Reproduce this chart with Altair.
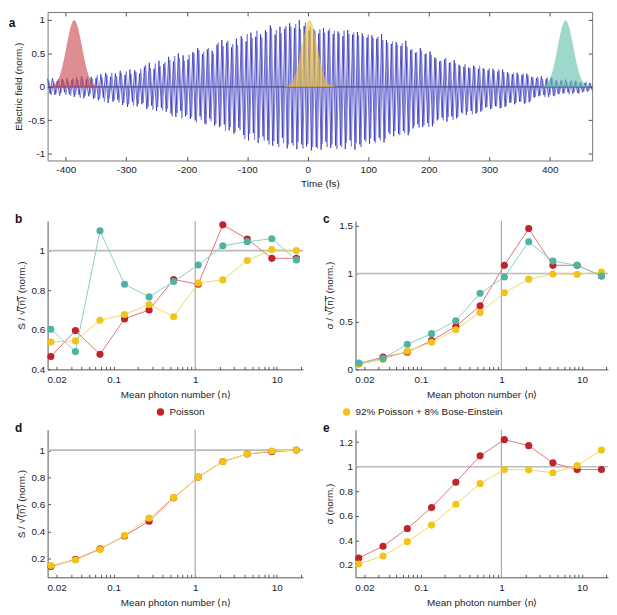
import altair as alt
import pandas as pd

FONT = "Liberation Sans"

# ---------- panel a: electric field, two overlaid traces (peak values every 4 fs) ----------
dark_start, light_start, peak_step = -430, -428, 4
dark_peaks = [
    0.12, -0.10, 0.13, -0.12, 0.09, -0.13, 0.12, -0.08, 0.13, -0.11,
    0.10, -0.15, 0.14, -0.12, 0.16, -0.17, 0.11, -0.14, 0.15, -0.18,
    0.13, -0.20, 0.19, -0.16, 0.21, -0.24, 0.15, -0.22, 0.20, -0.19,
    0.24, -0.27, 0.18, -0.30, 0.26, -0.22, 0.25, -0.29, 0.20, -0.26,
    0.30, -0.33, 0.36, -0.28, 0.27, -0.36, 0.39, -0.31, 0.34, -0.37,
    0.45, -0.40, 0.38, -0.45, 0.50, -0.36, 0.47, -0.44, 0.41, -0.48,
    0.52, -0.50, 0.58, -0.44, 0.49, -0.55, 0.56, -0.47, 0.54, -0.58,
    0.63, -0.60, 0.70, -0.56, 0.66, -0.65, 0.59, -0.70, 0.72, -0.61,
    0.76, -0.72, 0.68, -0.80, 0.81, -0.69, 0.75, -0.84, 0.79, -0.74,
    0.85, -0.80, 0.92, -0.88, 0.78, -0.85, 0.90, -0.76, 0.87, -0.92,
    0.95, -0.84, 0.88, -0.93, 1.00, -0.86, 0.91, -0.89, 0.84, -0.95,
    0.86, -0.90, 0.80, -0.94, 0.88, -0.82, 0.84, -0.91, 0.79, -0.88,
    0.83, -0.87, 0.76, -0.93, 0.85, -0.80, 0.78, -0.94, 0.82, -0.86,
    0.80, -0.79, 0.74, -0.85, 0.77, -0.81, 0.72, -0.76, 0.79, -0.83,
    0.70, -0.68, 0.64, -0.74, 0.67, -0.70, 0.61, -0.66, 0.69, -0.72,
    0.55, -0.62, 0.51, -0.56, 0.58, -0.60, 0.49, -0.54, 0.53, -0.59,
    0.44, -0.50, 0.38, -0.46, 0.41, -0.52, 0.36, -0.44, 0.40, -0.47,
    0.33, -0.38, 0.30, -0.42, 0.29, -0.36, 0.32, -0.40, 0.27, -0.37,
    0.28, -0.31, 0.25, -0.33, 0.27, -0.29, 0.23, -0.32, 0.26, -0.30,
    0.22, -0.24, 0.19, -0.26, 0.21, -0.22, 0.18, -0.25, 0.20, -0.23,
    0.15, -0.16, 0.13, -0.14, 0.16, -0.12, 0.12, -0.15, 0.14, -0.13,
    0.10, -0.11, 0.09, -0.10, 0.11, -0.08, 0.08, -0.10, 0.09, -0.09,
    0.07, -0.08, 0.06, -0.07, 0.06, -0.05,
]
light_peaks = [
    0.10, -0.12, 0.08, -0.10, 0.12, -0.09, 0.10, -0.12, 0.08, -0.13,
    0.13, -0.12, 0.10, -0.16, 0.12, -0.13, 0.15, -0.11, 0.12, -0.16,
    0.17, -0.18, 0.14, -0.22, 0.18, -0.17, 0.21, -0.20, 0.16, -0.23,
    0.20, -0.24, 0.23, -0.26, 0.19, -0.28, 0.22, -0.25, 0.27, -0.24,
    0.33, -0.30, 0.28, -0.34, 0.35, -0.30, 0.31, -0.35, 0.37, -0.33,
    0.40, -0.44, 0.46, -0.39, 0.43, -0.47, 0.39, -0.42, 0.48, -0.45,
    0.50, -0.53, 0.55, -0.49, 0.52, -0.56, 0.58, -0.51, 0.50, -0.55,
    0.66, -0.58, 0.61, -0.66, 0.69, -0.60, 0.64, -0.67, 0.62, -0.65,
    0.72, -0.78, 0.79, -0.70, 0.73, -0.79, 0.84, -0.76, 0.74, -0.80,
    0.82, -0.86, 0.88, -0.81, 0.85, -0.90, 0.80, -0.84, 0.91, -0.86,
    0.90, -0.88, 0.94, -0.82, 0.86, -0.92, 0.96, -0.85, 0.89, -0.90,
    0.83, -0.92, 0.86, -0.85, 0.81, -0.90, 0.87, -0.86, 0.84, -0.93,
    0.80, -0.90, 0.84, -0.83, 0.79, -0.89, 0.81, -0.84, 0.77, -0.90,
    0.76, -0.82, 0.78, -0.77, 0.73, -0.84, 0.75, -0.80, 0.70, -0.78,
    0.66, -0.71, 0.68, -0.66, 0.63, -0.72, 0.65, -0.69, 0.60, -0.68,
    0.56, -0.58, 0.52, -0.61, 0.54, -0.57, 0.50, -0.60, 0.48, -0.55,
    0.42, -0.48, 0.39, -0.50, 0.43, -0.45, 0.37, -0.49, 0.35, -0.45,
    0.31, -0.40, 0.34, -0.37, 0.28, -0.41, 0.30, -0.38, 0.31, -0.35,
    0.26, -0.30, 0.28, -0.32, 0.24, -0.29, 0.26, -0.31, 0.22, -0.28,
    0.20, -0.23, 0.21, -0.24, 0.18, -0.22, 0.20, -0.24, 0.17, -0.21,
    0.14, -0.15, 0.15, -0.13, 0.12, -0.15, 0.14, -0.12, 0.13, -0.14,
    0.09, -0.10, 0.10, -0.09, 0.08, -0.11, 0.10, -0.08, 0.09, -0.10,
    0.06, -0.07, 0.07, -0.06, 0.05,
]
wave = pd.concat([
    pd.DataFrame({"t": [light_start + peak_step * i for i in range(len(light_peaks))],
                  "E": light_peaks, "trace": "light"}),
    pd.DataFrame({"t": [dark_start + peak_step * i for i in range(len(dark_peaks))],
                  "E": dark_peaks, "trace": "dark"}),
], ignore_index=True)

# pulse envelopes (same shape at three delays)
pulse_offsets = [-45, -40, -35, -30, -25, -20, -15, -10, -5, 0, 5, 10, 15, 20, 25, 30, 35, 40, 45]
pulse_shape = [0.0, 0.007, 0.022, 0.06, 0.14, 0.29, 0.5, 0.73, 0.92, 1.0,
               0.92, 0.73, 0.5, 0.29, 0.14, 0.06, 0.022, 0.007, 0.0]
pulse_names = ["early", "centre", "late"]
pulse_centres = [-386, 3, 426]
pulse_colors = ["#c9474e", "#ecc23a", "#62c0ad"]

rows = []
for name, c in zip(pulse_names, pulse_centres):
    for off, h in zip(pulse_offsets, pulse_shape):
        rows.append({"pulse": name, "t": c + off, "E": h, "E0": 0.0})
pulses = pd.DataFrame(rows)

time_ticks = [-400, -300, -200, -100, 0, 100, 200, 300, 400]
field_ticks = [-1, -0.5, 0, 0.5, 1]

# ---------- panels b-e ----------
mean_n = [0.017, 0.034, 0.068, 0.136, 0.272, 0.544, 1.088, 2.18, 4.35, 8.7, 17.4]
series_names = ["Poisson", "92% Poisson + 8% Bose-Einstein", "Measured"]
point_colors = ["#c1232b", "#f0c419", "#4fb3a3"]
line_colors = ["#de7479", "#f3d860", "#86d2c4"]

b_poisson = [0.465, 0.596, 0.476, 0.655, 0.70, 0.854, 0.83, 1.13, 1.058, 0.961, 0.961]
b_mixed = [0.538, 0.544, 0.648, 0.677, 0.728, 0.666, 0.836, 0.852, 0.95, 1.005, 1.0]
b_measured = [0.603, 0.49, 1.10, 0.83, 0.766, 0.844, 0.927, 1.024, 1.045, 1.06, 0.953]

c_poisson = [0.06, 0.128, 0.18, 0.30, 0.45, 0.663, 1.086, 1.47, 1.086, 1.086, 0.975]
c_mixed = [0.054, 0.104, 0.19, 0.283, 0.414, 0.595, 0.80, 0.942, 0.996, 0.992, 1.016]
c_measured = [0.067, 0.114, 0.262, 0.373, 0.508, 0.794, 0.965, 1.332, 1.13, 1.086, 0.975]

d_poisson = [0.14, 0.193, 0.27, 0.365, 0.475, 0.647, 0.80, 0.916, 0.971, 0.988, 1.0]
d_mixed = [0.147, 0.188, 0.265, 0.37, 0.497, 0.65, 0.80, 0.916, 0.971, 0.993, 1.0]

e_poisson = [0.257, 0.353, 0.496, 0.668, 0.873, 1.088, 1.22, 1.171, 1.031, 0.977, 0.977]
e_mixed = [0.208, 0.273, 0.39, 0.525, 0.694, 0.862, 0.977, 0.974, 0.951, 1.01, 1.135]

n_labels = [0.02, 0.1, 1, 10]
n_minor = [0.02, 0.03, 0.04, 0.05, 0.06, 0.07, 0.08, 0.09,
           0.1, 0.2, 0.3, 0.4, 0.5, 0.6, 0.7, 0.8, 0.9,
           1, 2, 3, 4, 5, 6, 7, 8, 9, 10, 20]

AXIS_COLOR = "#555555"
MINUS_FIX = "replace(format(datum.value, '~g'), '\u2212', '-')"


def frame_panel():
    xs = alt.Scale(domain=[-430, 470], nice=False, zero=False)
    ys = alt.Scale(domain=[-1.1, 1.12], nice=False, zero=False)
    inner = dict(offset=-4, tickSize=4, domain=False, tickColor=AXIS_COLOR)
    traces = alt.Chart(wave).mark_line(interpolate="linear").encode(
        x=alt.X("t:Q", scale=xs, title="Time (fs)",
                axis=alt.Axis(orient="bottom", values=time_ticks, labelExpr=MINUS_FIX,
                              labelPadding=4, titlePadding=4, **inner)),
        y=alt.Y("E:Q", scale=ys, title="Electric field (norm.)",
                axis=alt.Axis(orient="left", values=field_ticks, labelExpr=MINUS_FIX,
                              labelPadding=3, titlePadding=4, **inner)),
        stroke=alt.Stroke("trace:N", scale=alt.Scale(domain=["light", "dark"],
                                                     range=["#8484e0", "#2222ae"]),
                          legend=None),
        strokeWidth=alt.StrokeWidth("trace:N", scale=alt.Scale(domain=["light", "dark"],
                                                               range=[1.0, 0.7]),
                                    legend=None),
    )
    zero = alt.Chart(pd.DataFrame({"E": [0.0]})).mark_rule(
        color="#4a4a86", strokeWidth=1.2
    ).encode(y=alt.Y("E:Q", scale=ys, axis=None))
    env = alt.Chart(pulses).mark_area(opacity=0.62, interpolate="monotone").encode(
        x=alt.X("t:Q", scale=xs,
                axis=alt.Axis(orient="top", values=time_ticks, labels=False, title=None, **inner)),
        y=alt.Y("E:Q", scale=ys, stack=None,
                axis=alt.Axis(orient="right", values=field_ticks, labels=False, title=None, **inner)),
        y2="E0:Q",
        color=alt.Color("pulse:N", scale=alt.Scale(domain=pulse_names, range=pulse_colors),
                        legend=None),
    )
    return alt.layer(traces, zero, env).resolve_axis(
        x="independent", y="independent"
    ).properties(
        width=550, height=150,
        view=alt.ViewBackground(stroke="#777777", strokeWidth=1),
        title=alt.TitleParams("a", anchor="start", dx=-5, offset=-19),
    )


def ratio_panel(letter, series, ydom, yticks, ytitle, width, height):
    frames = []
    for name, vals in series:
        frames.append(pd.DataFrame({"n": mean_n, "v": vals, "series": name}))
    df = pd.concat(frames, ignore_index=True)
    xs = alt.Scale(type="log", domain=[0.0155, 21], nice=False)
    ys = alt.Scale(domain=ydom, nice=False, zero=False)
    lines = alt.Chart(df).mark_line(strokeWidth=1).encode(
        x=alt.X("n:Q", scale=xs, title="Mean photon number \u27e8n\u27e9",
                axis=alt.Axis(orient="bottom", values=n_labels, format="~g", ticks=False,
                              labelPadding=5, titlePadding=5, domainColor=AXIS_COLOR)),
        y=alt.Y("v:Q", scale=ys, title=ytitle,
                axis=alt.Axis(orient="left", values=yticks, format="~g", ticks=False,
                              labelPadding=3, titlePadding=4, domainColor=AXIS_COLOR)),
        stroke=alt.Stroke("series:N", scale=alt.Scale(domain=series_names, range=line_colors),
                          legend=None),
        detail="series:N",
    )
    dots = alt.Chart(df).mark_circle(size=52, opacity=1).encode(
        x=alt.X("n:Q", scale=xs,
                axis=alt.Axis(orient="bottom", values=n_minor, labels=False, title=None,
                              domain=False, offset=-3, tickSize=3, tickColor=AXIS_COLOR)),
        y=alt.Y("v:Q", scale=ys,
                axis=alt.Axis(orient="left", values=yticks, labels=False, title=None,
                              domain=False, offset=-3, tickSize=3, tickColor=AXIS_COLOR)),
        fill=alt.Fill("series:N", scale=alt.Scale(domain=series_names, range=point_colors),
                      legend=None),
    )
    vref = alt.Chart(pd.DataFrame({"n": [1.0]})).mark_rule(
        color="#aaaaaa", strokeWidth=1.2
    ).encode(x=alt.X("n:Q", scale=xs, axis=None))
    href = alt.Chart(pd.DataFrame({"v": [1.0]})).mark_rule(
        color="#bbbbbb", strokeWidth=1.6
    ).encode(y=alt.Y("v:Q", scale=ys, axis=None))
    return alt.layer(vref, href, lines, dots).resolve_axis(
        x="independent", y="independent"
    ).properties(
        width=width, height=height,
        title=alt.TitleParams(letter, anchor="start", offset=-6, dx=-2),
    )


overline = "\u27e8\u0305n\u0305\u27e9\u0305"
s_title = "S\u0304 / \u221a" + overline + " (norm.)"
sig_title = "\u03c3 / \u221a" + overline + " (norm.)"

panel_a = frame_panel()
panel_b = ratio_panel("b", [("Poisson", b_poisson), ("92% Poisson + 8% Bose-Einstein", b_mixed),
                            ("Measured", b_measured)],
                      [0.4, 1.15], [0.4, 0.6, 0.8, 1], s_title, 258, 150)
panel_c = ratio_panel("c", [("Poisson", c_poisson), ("92% Poisson + 8% Bose-Einstein", c_mixed),
                            ("Measured", c_measured)],
                      [0, 1.55], [0, 0.5, 1, 1.5], sig_title, 255, 150)
panel_d = ratio_panel("d", [("Poisson", d_poisson), ("92% Poisson + 8% Bose-Einstein", d_mixed)],
                      [0.06, 1.15], [0.2, 0.4, 0.6, 0.8, 1], s_title, 258, 149)
panel_e = ratio_panel("e", [("Poisson", e_poisson), ("92% Poisson + 8% Bose-Einstein", e_mixed)],
                      [0.1, 1.3], [0.2, 0.4, 0.6, 0.8, 1, 1.2], "\u03c3 (norm.)", 255, 149)

legend_names = series_names[:2]
legend_row = alt.Chart(pd.DataFrame({"series": legend_names})).mark_circle(opacity=0).encode(
    fill=alt.Fill("series:N", scale=alt.Scale(domain=legend_names, range=point_colors[:2]),
                  legend=alt.Legend(title=None, orient="none", legendX=109, legendY=0,
                                    direction="horizontal", symbolType="circle",
                                    symbolSize=55, symbolOpacity=1, symbolStrokeWidth=0,
                                    labelFontSize=10, labelFont=FONT, labelColor="#222222",
                                    labelOffset=4, columnPadding=138)),
).properties(width=540, height=1)

lower = alt.vconcat(
    alt.hconcat(panel_b, panel_c, spacing=19),
    legend_row,
    alt.hconcat(panel_d, panel_e, spacing=19),
    spacing=5,
).resolve_scale(fill="independent", stroke="independent")

chart = alt.vconcat(
    panel_a,
    lower,
    spacing=24,
).resolve_scale(
    fill="independent", stroke="independent", color="independent"
).properties(
    padding={"left": 0, "top": 0, "right": 0, "bottom": 0},
).configure(
    font=FONT,
).configure_view(
    stroke=None,
).configure_axis(
    labelFont=FONT, titleFont=FONT, labelFontSize=10, titleFontSize=10,
    labelColor="#222222", titleColor="#222222", titleFontWeight="normal",
    domainColor="#777777", grid=False,
).configure_title(
    font=FONT, fontSize=12, fontWeight="bold", color="#111111",
)

chart.save("out.html", embed_options={"renderer": "svg", "actions": False})
